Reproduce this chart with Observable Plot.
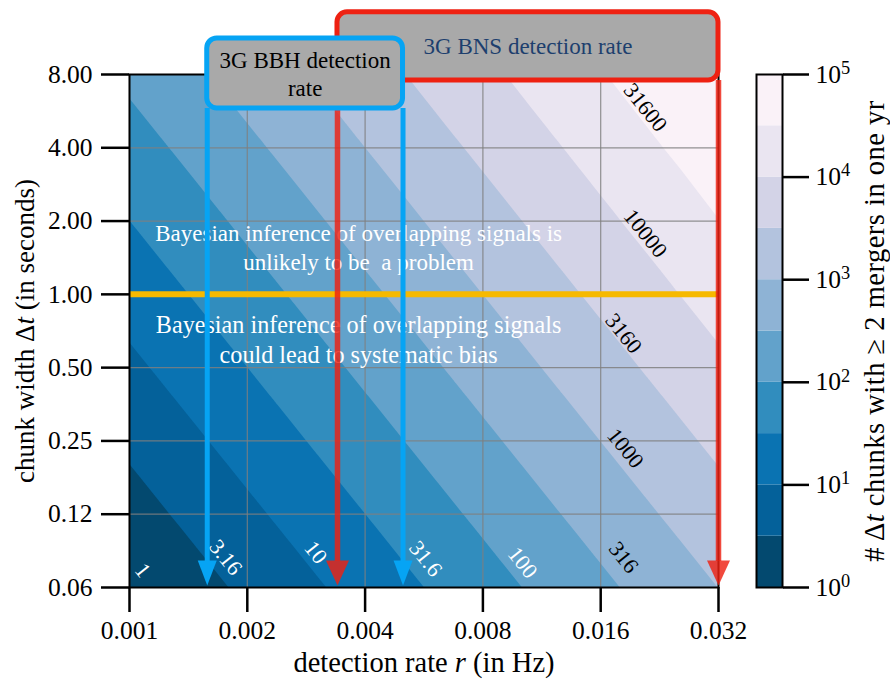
<!DOCTYPE html>
<html>
<head>
<meta charset="utf-8">
<script src="https://cdn.jsdelivr.net/npm/d3@7"></script>
<script src="https://cdn.jsdelivr.net/npm/@observablehq/plot@0.6"></script>
<style>
  html, body { margin: 0; padding: 0; background: #ffffff; }
</style>
</head>
<body>
<div id="chart"></div>
<script>
// ---------- data ----------
const rates = [0.001, 0.002, 0.004, 0.008, 0.016, 0.032];            // detection rate r (Hz) grid / x ticks
const rateTickLabels = ["0.001", "0.002", "0.004", "0.008", "0.016", "0.032"];
const widths = [0.0625, 0.125, 0.25, 0.5, 1, 2, 4, 8];                 // chunk width Δt (s) grid / y ticks
const widthTickLabels = ["0.06", "0.12", "0.25", "0.50", "1.00", "2.00", "4.00", "8.00"];

// number of Δt chunks with ≥ 2 mergers in one year, one row per chunk width, one column per rate
const chunkCounts = [
  [0.986, 3.94, 15.8, 63.1, 252.3, 1008.6],
  [1.97, 7.89, 31.5, 126.1, 504.2, 2014],
  [3.94, 15.8, 63.1, 252.1, 1007, 4018],
  [7.89, 31.5, 126.0, 503.5, 2009, 7993],
  [15.8, 63.0, 251.8, 1004.5, 3997, 15818],
  [31.5, 125.9, 502.2, 1998, 7909, 30976],
  [62.9, 251.1, 999.2, 3954, 15488, 59379],
  [125.5, 499.5, 1977, 7744, 29690, 109193]
];

// contour levels and their inline labels
const levels = [1, 3.1623, 10, 31.623, 100, 316.23, 1000, 3162.3, 10000, 31623, 100000];
const labelTexts = ["1", "3.16", "10", "31.6", "100", "316", "1000", "3160", "10000", "31600"];
const labelRates = [0.00108, 0.00176, 0.00299, 0.00571, 0.0101, 0.0183, 0.0185, 0.0183, 0.0208, 0.0208];
const labelWidths = [0.0735, 0.083, 0.087, 0.082, 0.079, 0.083, 0.233, 0.69, 1.78, 5.85];

// colour bar ticks
const colorbarTicks = [1, 10, 100, 1000, 10000, 100000];

// annotations
const boundaryWidth = [1];
const regimeTexts = [
  "Bayesian inference of overlapping signals is\nunlikely to be\u00a0 a problem",
  "Bayesian inference of overlapping signals\ncould lead to systematic bias"
];
const regimeRates = [0.00385, 0.00385];
const regimeWidths = [1.57, 0.659];

const bbhRates = [0.00158, 0.0050];     // 3G BBH detection rate range
const bbhBoxWidths = [5.8, 11.25];
const bbhText = "3G BBH detection\nrate";
const bnsRates = [0.0034, 0.032];       // 3G BNS detection rate range
const bnsBoxWidths = [7.56, 14.4];
const bnsText = "3G BNS detection rate";
const arrowTipWidth = 0.0637;
const arrowBaseWidth = 0.08;

const xLabel = "detection rate r (in Hz)";
const yLabel = "chunk width Δt (in seconds)";
const cbLabel = "# Δt chunks with ≥ 2 mergers in one yr";

// ---------- styles ----------
const FONT = "'Liberation Serif', 'DejaVu Serif', serif";
const palette = ["#03496f", "#04619a", "#0a73b2", "#318dbe", "#62a2cb", "#8eb3d5", "#b3c3de", "#d3d3e7", "#eae5f1", "#faf2f8", "#ffffff"];
const blue = "#06a4f4", red = "#ee2112", boxGray = "#a9a9a9", orange = "#f6b900", navy = "#1d3f6e";

// ---------- derived tables ----------
const grid = [];
widths.forEach((dt, j) => rates.forEach((r, i) => grid.push({r, dt, n: chunkCounts[j][i]})));
const levelExps = levels.map(Math.log10);
const colorScale = {type: "threshold", domain: levelExps.slice(1), range: palette};
const bands = levels.slice(0, -1).map((lo, i) => ({lo, hi: levels[i + 1]}));
const contourLabels = labelTexts.map((label, i) => ({label, r: labelRates[i], dt: labelWidths[i], level: levels[i]}));
const regimeNotes = regimeTexts.map((text, i) => ({text, r: regimeRates[i], dt: regimeWidths[i]}));
const lookup = (values, labels) => d => {
  const i = values.findIndex(v => Math.abs(v - d) <= 1e-6 * v);
  return i < 0 ? "" : labels[i];
};
const xFmt = lookup(rates, rateTickLabels);
const yFmt = lookup(widths, widthTickLabels);

const headShape = {
  draw(ctx, l, r) { ctx.moveTo(0, -l); ctx.lineTo(-r, 0); ctx.lineTo(r, 0); ctx.closePath(); }
};

// ---------- colour bar ----------
const cb = Plot.plot({
  width: 890, height: 682,
  marginLeft: 756, marginRight: 108, marginTop: 74, marginBottom: 95,
  style: {fontFamily: FONT, fontSize: "25.5px", background: "none", overflow: "visible"},
  y: {type: "log", domain: [levels[0], levels[levels.length - 1]]},
  color: colorScale,
  marks: [
    Plot.rect(bands, {y1: "lo", y2: "hi", fill: d => Math.log10(d.lo)}),
    Plot.frame({stroke: "black", strokeWidth: 2}),
    Plot.axisY(colorbarTicks, {anchor: "right", tickSize: 26, tickPadding: 7, strokeWidth: 2.5, fontFamily: FONT,
      text: d => String(Math.round(Math.log10(d))), label: null}),
    Plot.text([cbLabel], {text: d => d, frameAnchor: "right", rotate: -90, dx: 92, fontSize: 28.5, textAnchor: "middle"})
  ]
});
cb.querySelectorAll('[aria-label="y-axis tick label"] text').forEach((t, i) => {
  const k = Math.round(Math.log10(colorbarTicks[i]));
  t.innerHTML = `10<tspan dy="-0.48em" font-size="0.72em">${k}</tspan>`;
});
cb.setAttribute("x", 0);
cb.setAttribute("y", 0);
cb.style.maxWidth = "none";
cb.style.width = "890px";
cb.style.height = "682px";

// ---------- main chart ----------
const chart = Plot.plot({
  width: 890, height: 682,
  marginLeft: 129, marginRight: 172, marginTop: 74, marginBottom: 95,
  style: {fontFamily: FONT, fontSize: "25.5px", background: "white", overflow: "visible"},
  x: {type: "log", domain: [rates[0], rates[rates.length - 1]]},
  y: {type: "log", domain: [widths[0], widths[widths.length - 1]]},
  color: colorScale,
  marks: [
    Plot.contour(grid, {x: "r", y: "dt", fill: d => Math.log10(d.n), thresholds: levelExps,
      interpolate: "barycentric", stroke: "none"}),
    Plot.gridX(rates, {stroke: "#7f7f7f", strokeOpacity: 0.85, strokeWidth: 1.2}),
    Plot.gridY(widths, {stroke: "#7f7f7f", strokeOpacity: 0.85, strokeWidth: 1.2}),
    Plot.ruleY(boundaryWidth, {stroke: orange, strokeWidth: 6}),
    Plot.text(regimeNotes.slice(0, 1), {x: "r", y: "dt", text: "text", fill: "white", fontSize: 23, lineHeight: 1.25}),
    Plot.text(regimeNotes.slice(1), {x: "r", y: "dt", text: "text", fill: "white", fontSize: 24.2, lineHeight: 1.24}),
    Plot.text(contourLabels.filter(d => d.level < 300), {x: "r", y: "dt", text: "label", rotate: 51.2, fill: "white", fontSize: 22}),
    Plot.text(contourLabels.filter(d => d.level >= 300), {x: "r", y: "dt", text: "label", rotate: 51.2, fill: "black", fontSize: 22}),
    Plot.frame({stroke: "black", strokeWidth: 2}),
    Plot.axisX(rates, {tickSize: 25, tickPadding: 8, strokeWidth: 2.5, fontFamily: FONT, text: xFmt, label: null}),
    Plot.axisY(widths, {tickSize: 28, tickPadding: 9, strokeWidth: 2.5, fontFamily: FONT, text: yFmt, label: null}),
    Plot.text([xLabel], {text: d => d, frameAnchor: "bottom", dy: 84, fontSize: 28.5, textAnchor: "middle"}),
    Plot.text([yLabel], {text: d => d, frameAnchor: "left", rotate: -90, dx: -104, fontSize: 27, textAnchor: "middle"}),

    // BNS annotation (red)
    Plot.ruleX(bnsRates, {x: d => d, y1: bnsBoxWidths[0], y2: arrowBaseWidth, stroke: red, strokeOpacity: 0.82, strokeWidth: 5.5}),
    Plot.vector(bnsRates.map(r => ({r, dt: arrowTipWidth})), {x: "r", y: "dt", length: 25, r: 11.5, rotate: 180,
      anchor: "end", shape: headShape, fill: red, fillOpacity: 0.82, stroke: "none"}),
    Plot.rect([{r0: bnsRates[0], r1: bnsRates[1], w0: bnsBoxWidths[0], w1: bnsBoxWidths[1]}],
      {x1: "r0", x2: "r1", y1: "w0", y2: "w1", rx: 10, fill: boxGray, stroke: red, strokeWidth: 5}),
    Plot.text([{text: bnsText, r: Math.sqrt(bnsRates[0] * bnsRates[1]), dt: Math.sqrt(bnsBoxWidths[0] * bnsBoxWidths[1])}],
      {x: "r", y: "dt", text: "text", fill: navy, fontSize: 23}),

    // BBH annotation (blue)
    Plot.ruleX(bbhRates, {x: d => d, y1: bbhBoxWidths[0], y2: arrowBaseWidth, stroke: blue, strokeWidth: 5}),
    Plot.vector(bbhRates.map(r => ({r, dt: arrowTipWidth})), {x: "r", y: "dt", length: 25, r: 9.5, rotate: 180,
      anchor: "end", shape: headShape, fill: blue, stroke: "none"}),
    Plot.rect([{r0: bbhRates[0], r1: bbhRates[1], w0: bbhBoxWidths[0], w1: bbhBoxWidths[1]}],
      {x1: "r0", x2: "r1", y1: "w0", y2: "w1", rx: 10, fill: boxGray, stroke: blue, strokeWidth: 5}),
    Plot.text([{text: bbhText, r: Math.sqrt(bbhRates[0] * bbhRates[1]), dt: Math.sqrt(bbhBoxWidths[0] * bbhBoxWidths[1])}],
      {x: "r", y: "dt", text: "text", fill: "black", fontSize: 23, lineHeight: 1.22}),

    () => cb
  ]
});

// make sure every tick carries its label (log axes may blank some)
function relabel(svg, selector, labels) {
  const texts = svg.querySelectorAll(selector);
  if (texts.length === labels.length) texts.forEach((t, i) => { t.textContent = labels[i]; });
}
relabel(chart, '[aria-label="x-axis tick label"] text', rateTickLabels);
relabel(chart, '[aria-label="y-axis tick label"] text', widthTickLabels);

// italic math variables in the labels
function italicize(svg, plain, html) {
  svg.querySelectorAll("text").forEach(t => {
    if (t.textContent === plain) t.innerHTML = html;
  });
}
italicize(chart, xLabel, 'detection rate <tspan font-style="italic">r</tspan> (in Hz)');
italicize(chart, yLabel, 'chunk width Δ<tspan font-style="italic">t</tspan> (in seconds)');
italicize(chart, cbLabel, '# Δ<tspan font-style="italic">t</tspan> chunks with ≥ 2 mergers in one yr');
chart.querySelectorAll("text").forEach(t => {
  if (t.textContent === cbLabel) t.setAttribute("letter-spacing", "0.5");
});

document.getElementById("chart").appendChild(chart);
</script>
</body>
</html>
